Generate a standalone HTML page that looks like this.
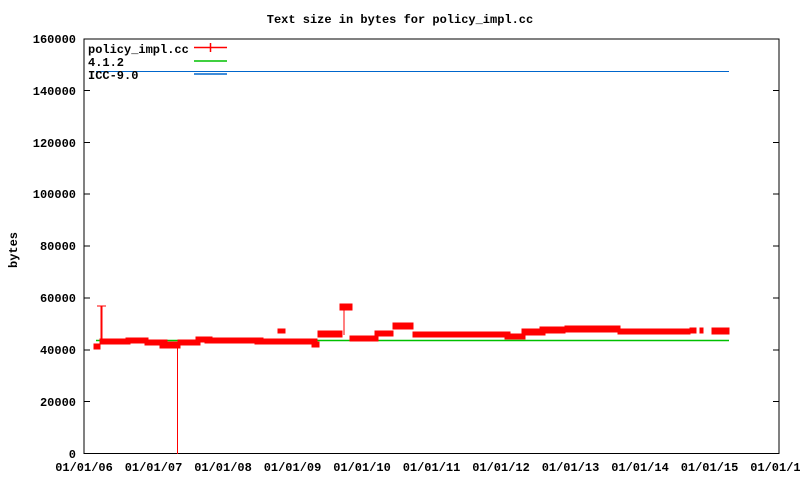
<!DOCTYPE html>
<html><head><meta charset="utf-8"><style>
html,body{margin:0;padding:0;background:#fff;}
svg text{font-family:"Liberation Mono","DejaVu Sans Mono",monospace;font-weight:bold;font-size:12px;fill:#000;}
</style></head><body>
<svg width="800" height="480" viewBox="0 0 800 480" xmlns="http://www.w3.org/2000/svg">
<rect width="800" height="480" fill="#fff"/>
<text x="400" y="23" text-anchor="middle">Text size in bytes for policy_impl.cc</text>
<text transform="translate(17,250) rotate(-90)" text-anchor="middle">bytes</text>
<g text-anchor="end">
<text x="76" y="458">0</text>
<text x="76" y="406">20000</text>
<text x="76" y="354">40000</text>
<text x="76" y="302">60000</text>
<text x="76" y="250">80000</text>
<text x="76" y="198">100000</text>
<text x="76" y="147">120000</text>
<text x="76" y="95">140000</text>
<text x="76" y="43">160000</text>
</g>
<g text-anchor="middle">
<text x="84" y="471">01/01/06</text>
<text x="153.5" y="471">01/01/07</text>
<text x="223" y="471">01/01/08</text>
<text x="292.5" y="471">01/01/09</text>
<text x="362" y="471">01/01/10</text>
<text x="431.5" y="471">01/01/11</text>
<text x="501" y="471">01/01/12</text>
<text x="570.5" y="471">01/01/13</text>
<text x="640" y="471">01/01/14</text>
<text x="709.5" y="471">01/01/15</text>
<text x="779" y="471">01/01/16</text>
</g>
<g stroke="#000" stroke-width="1" fill="none">
<path d="M84,39 V453.5 H779 V39 Z"/>
<path d="M84,401.5h6M84,350h6M84,298h6M84,246h6M84,194h6M84,142.5h6M84,90.5h6M779,401.5h-6M779,350h-6M779,298h-6M779,246h-6M779,194h-6M779,142.5h-6M779,90.5h-6"/>
</g>
<g id="ticks" stroke="#000" stroke-width="1"></g>
<line x1="96" y1="340.5" x2="729" y2="340.5" stroke="#00c000" stroke-width="1.5"/>
<line x1="96" y1="71.5" x2="729" y2="71.5" stroke="#0066cc" stroke-width="1"/>
<g fill="#f00" stroke="#f00">
<line x1="177.5" y1="345" x2="177.5" y2="454" stroke-width="1"/>
<line x1="101.5" y1="306" x2="101.5" y2="342" stroke-width="2"/>
<line x1="97" y1="306" x2="106" y2="306" stroke-width="1"/>
<line x1="344" y1="307" x2="344" y2="335" stroke-width="1"/>
<rect x="94" y="344" width="6" height="5"/>
<rect x="100" y="339" width="20" height="5"/>
<rect x="117" y="339" width="13" height="5"/>
<rect x="126" y="338" width="22" height="5"/>
<rect x="145" y="340" width="22" height="5"/>
<rect x="160" y="342" width="20" height="6"/>
<rect x="178" y="340" width="22" height="5"/>
<rect x="196" y="337" width="16" height="5"/>
<rect x="205" y="338" width="58" height="5"/>
<rect x="255" y="339" width="30" height="5"/>
<rect x="278" y="329" width="7" height="4"/>
<rect x="283" y="339" width="34" height="5"/>
<rect x="312" y="342" width="7" height="5"/>
<rect x="318" y="331" width="24" height="6"/>
<rect x="340" y="304" width="12" height="6"/>
<rect x="350" y="336" width="28" height="5"/>
<rect x="375" y="331" width="18" height="5"/>
<rect x="393" y="323" width="20" height="6"/>
<rect x="413" y="332" width="97" height="5"/>
<rect x="505" y="334" width="20" height="5"/>
<rect x="522" y="329" width="23" height="6"/>
<rect x="540" y="327" width="25" height="6"/>
<rect x="565" y="326" width="55" height="6"/>
<rect x="618" y="329" width="72" height="5"/>
<rect x="690" y="328" width="6" height="5"/>
<rect x="700" y="328" width="3" height="5"/>
<rect x="712" y="328" width="17" height="6"/>
</g>
<text x="88" y="53">policy_impl.cc</text>
<text x="88" y="66">4.1.2</text>
<text x="88" y="79">ICC-9.0</text>
<line x1="194" y1="47.5" x2="227" y2="47.5" stroke="#f00" stroke-width="1.5"/>
<line x1="210.5" y1="43" x2="210.5" y2="52" stroke="#f00" stroke-width="1.5"/>
<line x1="194" y1="61" x2="227" y2="61" stroke="#00c000" stroke-width="1.5"/>
<line x1="194" y1="74" x2="227" y2="74" stroke="#0066cc" stroke-width="1.5"/>
<script>
var g=document.getElementById('ticks'),s='';
for(var i=0;i<=40;i++){var x=84+i*17.375;var L=(i%4==0)?6:3;
s+='<line x1="'+x+'" y1="453" x2="'+x+'" y2="'+(453-L)+'"/><line x1="'+x+'" y1="39" x2="'+x+'" y2="'+(39+L)+'"/>';}
g.innerHTML=s;
</script>
</svg>
</body></html>
